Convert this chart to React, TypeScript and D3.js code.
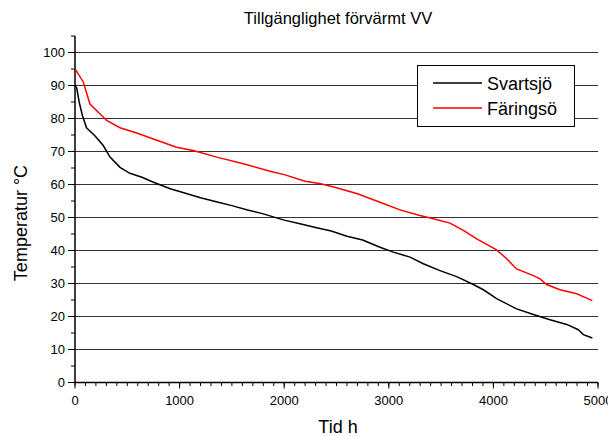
import React, { useEffect, useRef } from 'react'
import { select, scaleLinear, line, range } from 'd3'

// tid h / temperatur °C
const svartsjoTid = [0, 16, 40, 70, 110, 190, 270, 335, 430, 525, 640, 750, 910, 1000, 1200, 1350, 1500, 1650, 1800, 2000, 2150, 2300, 2450, 2600, 2750, 2916, 3043, 3203, 3330, 3489, 3649, 3808, 3904, 4031, 4222, 4382, 4541, 4701, 4812, 4860, 4946]
const svartsjoTemp = [90, 89.3, 85, 81, 77.2, 74.8, 71.8, 68.3, 65.2, 63.4, 62.2, 60.7, 58.7, 57.9, 56, 54.8, 53.6, 52.3, 51.1, 49.2, 48.1, 47, 45.9, 44.3, 43.2, 41, 39.5, 38, 36, 33.9, 32.1, 29.7, 28.1, 25.4, 22.3, 20.6, 19, 17.6, 16, 14.5, 13.5]

const faringsoTid = [0, 16, 80, 143, 223, 303, 430, 590, 750, 970, 1130, 1355, 1610, 1865, 2000, 2200, 2350, 2500, 2700, 2916, 3107, 3298, 3426, 3585, 3713, 3840, 4031, 4127, 4222, 4382, 4446, 4509, 4637, 4796, 4876, 4946]
const faringsoTemp = [95, 94.3, 91, 84.4, 81.9, 79.4, 77.2, 75.6, 73.8, 71.3, 70.3, 68.3, 66.3, 64, 63, 61, 60.2, 59, 57.2, 54.6, 52.3, 50.6, 49.6, 48.3, 46.1, 43.5, 40.2, 37.5, 34.4, 32.4, 31.4, 29.7, 28.1, 26.9, 25.8, 24.8]

const serier = [
  { namn: 'Svartsjö', tid: svartsjoTid, temp: svartsjoTemp, farg: '#000000' },
  { namn: 'Färingsö', tid: faringsoTid, temp: faringsoTemp, farg: '#ff0000' },
]

const xTicks = [0, 1000, 2000, 3000, 4000, 5000]
const yTicks = [0, 10, 20, 30, 40, 50, 60, 70, 80, 90, 100]

const W = 608
const H = 436
const FONT = 'Arial, "Liberation Sans", sans-serif'

const App = () => {
  const svgRef = useRef<SVGSVGElement>(null)

  useEffect(() => {
    const svg = select(svgRef.current)
    svg.selectAll('*').remove()

    const x = scaleLinear().domain([0, 5000]).range([75, 598])
    const y = scaleLinear().domain([0, 100]).range([382.5, 52.5])

    // rutnät
    svg.append('g')
      .selectAll('line')
      .data(yTicks.slice(1))
      .join('line')
      .attr('x1', x(0))
      .attr('x2', x(5000))
      .attr('y1', d => y(d))
      .attr('y2', d => y(d))
      .attr('stroke', '#333')
      .attr('stroke-width', 1.2)

    // y-axel
    const yAxis = svg.append('g')
    yAxis.append('line')
      .attr('x1', x(0)).attr('x2', x(0))
      .attr('y1', y(0)).attr('y2', y(105))
      .attr('stroke', '#000').attr('stroke-width', 1.5)
    yAxis.selectAll('.minor')
      .data(range(5, 110, 10))
      .join('line')
      .attr('class', 'minor')
      .attr('x1', x(0) - 4).attr('x2', x(0))
      .attr('y1', d => y(d)).attr('y2', d => y(d))
      .attr('stroke', '#000')
    yAxis.selectAll('.major')
      .data(yTicks)
      .join('line')
      .attr('class', 'major')
      .attr('x1', x(0) - 7).attr('x2', x(0))
      .attr('y1', d => y(d)).attr('y2', d => y(d))
      .attr('stroke', '#000')
    yAxis.selectAll('text')
      .data(yTicks)
      .join('text')
      .attr('x', x(0) - 10)
      .attr('y', d => y(d) + 4.5)
      .attr('text-anchor', 'end')
      .attr('font-family', FONT)
      .attr('font-size', 13)
      .text(d => d)

    // x-axel
    const xAxis = svg.append('g')
    xAxis.append('line')
      .attr('x1', x(0)).attr('x2', x(5000))
      .attr('y1', y(0)).attr('y2', y(0))
      .attr('stroke', '#000').attr('stroke-width', 1.5)
    xAxis.selectAll('.minor')
      .data(range(0, 5001, 100))
      .join('line')
      .attr('class', 'minor')
      .attr('x1', d => x(d)).attr('x2', d => x(d))
      .attr('y1', y(0)).attr('y2', y(0) + 3.5)
      .attr('stroke', '#000')
    xAxis.selectAll('.major')
      .data(xTicks)
      .join('line')
      .attr('class', 'major')
      .attr('x1', d => x(d)).attr('x2', d => x(d))
      .attr('y1', y(0)).attr('y2', y(0) + 6)
      .attr('stroke', '#000')
    xAxis.selectAll('text')
      .data(xTicks)
      .join('text')
      .attr('x', d => x(d))
      .attr('y', y(0) + 22)
      .attr('text-anchor', 'middle')
      .attr('font-family', FONT)
      .attr('font-size', 13)
      .text(d => d)

    // kurvor
    serier.forEach(s => {
      const pts = s.tid.map((t, i) => [x(t), y(s.temp[i])] as [number, number])
      svg.append('path')
        .attr('d', line()(pts))
        .attr('fill', 'none')
        .attr('stroke', s.farg)
        .attr('stroke-width', 1.5)
    })

    // legend
    const leg = svg.append('g')
    leg.append('rect')
      .attr('x', 417.5).attr('y', 65.5)
      .attr('width', 157).attr('height', 61)
      .attr('fill', '#fff').attr('stroke', '#000')
    serier.forEach((s, i) => {
      const ly = 83 + i * 25
      leg.append('line')
        .attr('x1', 433).attr('x2', 482)
        .attr('y1', ly).attr('y2', ly)
        .attr('stroke', s.farg).attr('stroke-width', 1.5)
      leg.append('text')
        .attr('x', 487).attr('y', ly + 6.5)
        .attr('font-family', FONT)
        .attr('font-size', 18)
        .text(s.namn)
    })

    // titlar
    svg.append('text')
      .attr('x', 338).attr('y', 24)
      .attr('text-anchor', 'middle')
      .attr('font-family', FONT)
      .attr('font-size', 16.5)
      .text('Tillgänglighet förvärmt VV')
    svg.append('text')
      .attr('x', 338).attr('y', 433)
      .attr('text-anchor', 'middle')
      .attr('font-family', FONT)
      .attr('font-size', 18)
      .text('Tid h')
    svg.append('text')
      .attr('transform', 'translate(27,223) rotate(-90)')
      .attr('text-anchor', 'middle')
      .attr('font-family', FONT)
      .attr('font-size', 18)
      .text('Temperatur °C')
  }, [])

  return (
    <svg
      ref={svgRef}
      width={W}
      height={H}
      viewBox={`0 0 ${W} ${H}`}
      style={{ position: 'absolute', left: 0, top: 0, background: '#fff' }}
    />
  )
}

export default App
